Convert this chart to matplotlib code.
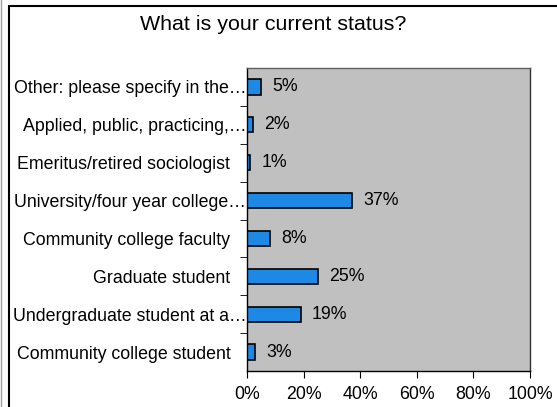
import matplotlib
matplotlib.use('Agg')
import matplotlib.pyplot as plt
from matplotlib.patches import Rectangle
from matplotlib.lines import Line2D
import numpy as np

plt.rcParams['font.family'] = ['Liberation Sans', 'DejaVu Sans']

# respuestas, de abajo hacia arriba
categorias = ['Community college student',
              'Undergraduate student at a…',
              'Graduate student',
              'Community college faculty',
              'University/four year college…',
              'Emeritus/retired sociologist',
              'Applied, public, practicing,…',
              'Other: please specify in the…']
porcentajes = [3, 19, 25, 8, 37, 1, 2, 5]
ticks_x = [0, 20, 40, 60, 80, 100]

fig = plt.figure(figsize=(5.57, 4.07), dpi=100)
ax = fig.add_axes([247/557, 1 - 371/407, 283/557, 303/407])

y = np.arange(len(categorias))
ax.barh(y, porcentajes, height=0.4, color='#1E88E5', edgecolor='black', linewidth=1.2)
for yi, v in zip(y, porcentajes):
    ax.text(v + 4, yi, f'{v}%', va='center', ha='left', fontsize=12.8)

ax.set_facecolor('#C0C0C0')
ax.set_xlim(0, 100)
ax.set_ylim(-0.5, len(categorias) - 0.5)
ax.set_xticks(ticks_x)
ax.set_xticklabels([f'{t}%' for t in ticks_x], fontsize=12.8)
ax.set_yticks(y)
ax.set_yticklabels(categorias, fontsize=12.8)
ax.set_yticks(np.arange(0.5, len(categorias) - 1, 1), minor=True)
ax.tick_params(axis='y', which='major', length=0)
ax.tick_params(axis='y', which='minor', length=5, direction='out')
ax.tick_params(axis='x', length=5, direction='out', pad=6)
# las etiquetas cortadas llegan hasta el eje
for t, nombre in zip(ax.yaxis.get_major_ticks(), categorias):
    t.set_pad(0.5 if nombre.endswith('…') else 12)

ax.spines['top'].set_color('#606060')
ax.spines['right'].set_color('#303030')
for s in ax.spines.values():
    s.set_linewidth(1)

fig.text(273/557, 1 - 24/407, 'What is your current status?', ha='center', va='center', fontsize=15.4)

# marco exterior
fig.patches.append(Rectangle((9/557, -0.1), 1.2, 1 - 6/407 + 0.1, transform=fig.transFigure,
                             fill=False, edgecolor='black', linewidth=1.5))
fig.lines.append(Line2D([0.6/557, 0.6/557], [0, 1], transform=fig.transFigure,
                        color='#A0A0A0', linewidth=1))

fig.savefig('out.png', dpi=100)
plt.close()
